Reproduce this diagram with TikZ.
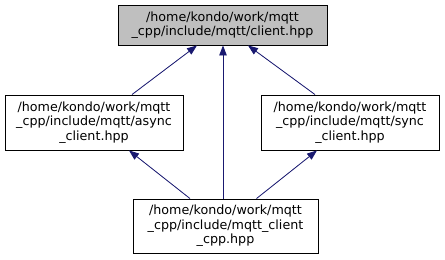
\documentclass[tikz,border=0pt]{standalone}
\usepackage{fontspec}
\setmainfont{DejaVu Sans}
\usetikzlibrary{arrows.meta}
\definecolor{edgeblue}{RGB}{25,25,112}
\definecolor{curfill}{RGB}{191,191,191}

\begin{document}
\begin{tikzpicture}[x=1pt,y=-1pt,
    file/.style={draw=black, line width=0.9pt, fill=white, inner sep=0pt, align=center,
        font=\fontsize{12.7}{14.5}\selectfont},
    dep/.style={draw=edgeblue, line width=0.8pt, -{Triangle[length=10pt,width=7.5pt]}, fill=edgeblue}]
        \useasboundingbox (0,0) rectangle (445,260);

        % header nodes
        \node[file, fill=curfill, minimum width=209pt, minimum height=40pt] (client) at (222.5,25)
            {/home/kondo/work/mqtt\\\_cpp/include/mqtt/client.hpp};
        \node[file, minimum width=178pt, minimum height=55pt] (async) at (94,122.5)
            {/home/kondo/work/mqtt\\\_cpp/include/mqtt/async\\\_client.hpp};
        \node[file, minimum width=178pt, minimum height=55pt] (sync) at (350,122.5)
            {/home/kondo/work/mqtt\\\_cpp/include/mqtt/sync\\\_client.hpp};
        \node[file, minimum width=185pt, minimum height=54pt] (cpp) at (225.5,226)
            {/home/kondo/work/mqtt\\\_cpp/include/mqtt\_client\\\_cpp.hpp};

        % include edges
        \draw[dep] ([xshift=38pt]async.north) -- ([xshift=-25.5pt]client.south);
        \draw[dep] ([xshift=-2.5pt]cpp.north) -- ([xshift=0.5pt]client.south);
        \draw[dep] ([xshift=-35pt]sync.north) -- ([xshift=25.5pt]client.south);
        \draw[dep] ([xshift=-35.5pt]cpp.north) -- ([xshift=35pt]async.south);
        \draw[dep] ([xshift=31pt]cpp.north) -- ([xshift=-33pt]sync.south);
\end{tikzpicture}
\end{document}
